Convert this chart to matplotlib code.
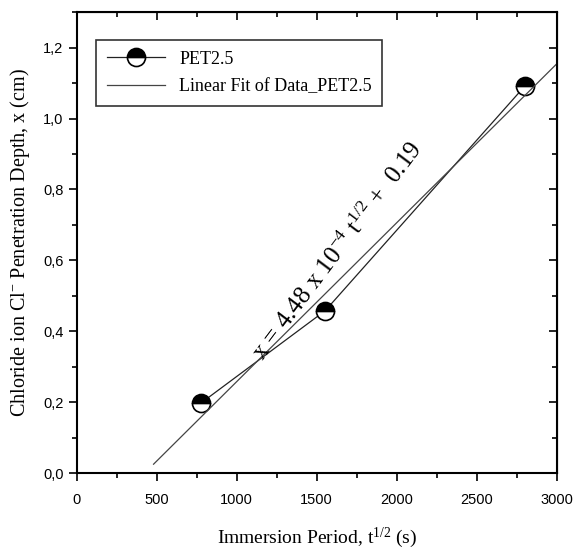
import numpy as np
import matplotlib
matplotlib.use("Agg")
import matplotlib.pyplot as plt
from matplotlib.ticker import MultipleLocator, FuncFormatter

# data
t_half = [778, 1553, 2802]
depth = [0.198, 0.458, 1.092]

# linear fit (as drawn)
fit_slope = 4.48e-4
fit_intercept = -0.19
fit_range = [480, 3000]

plt.rcParams['font.family'] = ['Liberation Serif', 'DejaVu Serif']
plt.rcParams['mathtext.fontset'] = 'custom'
plt.rcParams['mathtext.rm'] = 'Liberation Serif'
plt.rcParams['mathtext.it'] = 'Liberation Serif:italic'
plt.rcParams['mathtext.default'] = 'rm'

fig = plt.figure(figsize=(5.73, 5.52), dpi=100)
ax = fig.add_axes([0.134, 0.143, 0.8375, 0.835])

fx = np.array(fit_range)
ax.plot(t_half, depth, color='#222222', lw=0.9, marker='o', ms=13,
        fillstyle='top', markerfacecolor='black', markerfacecoloralt='white',
        markeredgecolor='black', markeredgewidth=1.2, label='PET2.5')
ax.plot(fx, fit_slope * fx + fit_intercept, color='#444444', lw=0.9,
        label='Linear Fit of Data_PET2.5')

ax.set_xlim(0, 3000)
ax.set_ylim(0, 1.3)
ax.xaxis.set_major_locator(MultipleLocator(500))
ax.xaxis.set_minor_locator(MultipleLocator(250))
ax.yaxis.set_major_locator(MultipleLocator(0.2))
ax.yaxis.set_minor_locator(MultipleLocator(0.1))
ax.yaxis.set_major_formatter(FuncFormatter(lambda v, p: f"{v:.1f}".replace('.', ',')))

for lab in ax.get_xticklabels() + ax.get_yticklabels():
    lab.set_family('Liberation Sans')
    lab.set_fontsize(10.5)
ax.tick_params(which='major', length=6, width=1.2)
ax.tick_params(which='minor', length=3.5, width=1.2)
ax.tick_params(which='both', direction='out')
ax.tick_params(axis='x', pad=8)
for s in ax.spines.values():
    s.set_linewidth(1.5)

# mirrored inward ticks on top/right
ax2 = ax.secondary_xaxis('top')
ax2.xaxis.set_major_locator(MultipleLocator(500))
ax2.xaxis.set_minor_locator(MultipleLocator(250))
ax2.tick_params(which='both', direction='in', labeltop=False, width=1.2)
ax2.tick_params(which='major', length=6)
ax2.tick_params(which='minor', length=3.5)
ax3 = ax.secondary_yaxis('right')
ax3.yaxis.set_major_locator(MultipleLocator(0.2))
ax3.yaxis.set_minor_locator(MultipleLocator(0.1))
ax3.tick_params(which='both', direction='in', labelright=False, width=1.2)
ax3.tick_params(which='major', length=6)
ax3.tick_params(which='minor', length=3.5)

ax.set_xlabel('Immersion Period, t$^{1/2}$ (s)', fontsize=14, labelpad=14)
ax.set_ylabel('Chloride ion Cl$^{-}$ Penetration Depth, x (cm)', fontsize=14.5, labelpad=8)

ax.text(1630, 0.625, r'x = 4.48 x 10$^{-4}$ t$^{1/2}$ +  0.19', fontsize=18,
        rotation=53, ha='center', va='center')

leg = ax.legend(loc='upper left', bbox_to_anchor=(0.04, 0.94), fontsize=13,
                fancybox=False, edgecolor='#333333', handlelength=3.2,
                borderpad=0.6, labelspacing=0.6, borderaxespad=0)
leg.get_frame().set_linewidth(1.2)
leg.get_frame().set_alpha(1)

fig.savefig('out.png', dpi=100)
